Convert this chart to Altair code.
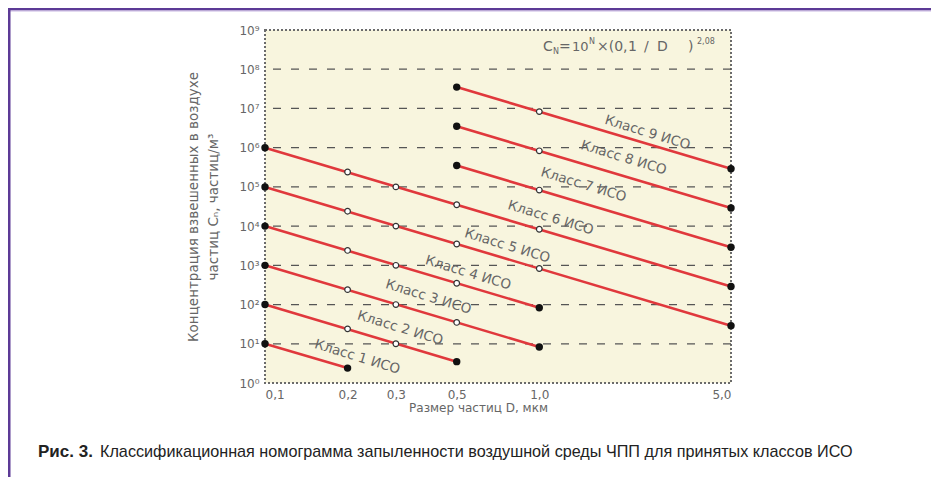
import altair as alt
import pandas as pd

# ---- data ----
classes = [1, 2, 3, 4, 5, 6, 7, 8, 9]
line_d_start = [0.1, 0.1, 0.1, 0.1, 0.1, 0.1, 0.5, 0.5, 0.5]
line_c_start = [10, 100, 1000, 1e4, 1e5, 1e6, 3.5e5, 3.5e6, 3.5e7]
line_d_end = [0.2, 0.5, 1.0, 1.0, 5.0, 5.0, 5.0, 5.0, 5.0]
line_c_end = [2.4, 3.5, 8.3, 83, 29, 290, 2900, 29000, 2.9e5]

open_class = [2, 2, 3, 3, 3, 4, 4, 4, 5, 5, 5, 5, 6, 6, 6, 6, 7, 8, 9]
open_d = [0.2, 0.3, 0.2, 0.3, 0.5, 0.2, 0.3, 0.5, 0.2, 0.3, 0.5, 1.0,
          0.2, 0.3, 0.5, 1.0, 1.0, 1.0, 1.0]
open_c = [24, 10, 240, 100, 35, 2400, 1000, 350, 24000, 10000, 3500, 830,
          2.4e5, 1.0e5, 3.5e4, 8300, 8.3e4, 8.3e5, 8.3e6]

label_text = ["Класс %d ИСО" % k for k in classes]
label_d = [0.217, 0.311, 0.394, 0.55, 0.764, 1.10, 1.45, 2.03, 2.48]
label_c = [4.6, 25, 156, 640, 3130, 16200, 1.13e5, 5.5e5, 2.4e6]

x_ticks = [0.1, 0.2, 0.3, 0.5, 1.0, 5.0]
y_ticks = [1, 10, 100, 1e3, 1e4, 1e5, 1e6, 1e7, 1e8, 1e9]
grid_lines = [10, 100, 1e3, 1e4, 1e5, 1e6, 1e7, 1e8]

x_title = "Размер частиц D, мкм"
y_title = ["Концентрация взвешенных в воздухе", "частиц Cₙ, частиц/м³"]
caption_bold = "Рис. 3."
caption_rest = "Классификационная номограмма запыленности воздушной среды ЧПП для принятых классов ИСО"

# ---- tables ----
lines_df = pd.DataFrame({
    "cls": classes + classes,
    "D": line_d_start + line_d_end,
    "C": line_c_start + line_c_end,
})
filled_df = lines_df.copy()
open_df = pd.DataFrame({"cls": open_class, "D": open_d, "C": open_c})
labels_df = pd.DataFrame({"t": label_text, "D": label_d, "C": label_c})
grid_df = pd.DataFrame({"C": grid_lines})

W, H = 466, 353
FONT = "DejaVu Sans"
GREY = "#666666"

xscale = alt.Scale(type="log", domain=[0.1, 5.0], nice=False)
yscale = alt.Scale(type="log", domain=[1, 1e9], nice=False)

sup = "['10⁰','10¹','10²','10³','10⁴','10⁵','10⁶','10⁷','10⁸','10⁹'][round(log(datum.value)/LN10)]"

X = alt.X("D:Q", scale=xscale, axis=alt.Axis(
    values=x_ticks, labelExpr="replace(format(datum.value,'.1f'),'.',',')",
    title=x_title, grid=False, ticks=False, domain=False, labelPadding=6,
    labelFont=FONT, labelFontSize=12, labelColor=GREY, titleFont=FONT,
    titleFontSize=12, titleColor=GREY, titleFontWeight="normal",
    titleX=213, titleY=19, titleAnchor="start", titleAlign="center", titleBaseline="top"))
Y_AXIS = alt.Axis(
    values=y_ticks, labelExpr=sup, title=y_title, grid=False, ticks=False,
    domain=False, labelPadding=6, labelFont=FONT, labelFontSize=12,
    labelColor=GREY, titleFont=FONT, titleFontSize=13.5, titleColor=GREY,
    titleFontWeight="normal", titlePadding=18, titleLineHeight=20)
Y = alt.Y("C:Q", scale=yscale, axis=Y_AXIS)

grid = alt.Chart(grid_df).mark_rule(color="#555555", strokeWidth=1.3,
                                    strokeDash=[8, 10]).encode(y=Y)

lines = alt.Chart(lines_df).mark_line(color="#e0383c", strokeWidth=2.6).encode(
    x=X, y=Y, detail="cls:N")

filled = alt.Chart(filled_df).mark_point(filled=True, color="#111111", size=55,
                                         opacity=1).encode(x="D:Q", y="C:Q")
opens = alt.Chart(open_df).mark_point(filled=True, fill="white", stroke="#333333",
                                      strokeWidth=1.2, size=32, opacity=1).encode(
    x="D:Q", y="C:Q")

labels = alt.Chart(labels_df).mark_text(angle=17, font=FONT, fontSize=13.5,
                                        color=GREY).encode(
    x="D:Q", y="C:Q", text="t:N")

# annotation pieces (positions relative to plot origin)
def txt(s, x, y, size=14, align="left", weight="normal", color=GREY, font=FONT):
    return alt.Chart(pd.DataFrame({"t": [s]})).mark_text(
        align=align, baseline="alphabetic", fontSize=size, font=font,
        fontWeight=weight, color=color).encode(
        x=alt.value(x), y=alt.value(y), text="t:N")

ox, oy = 265, 30
formula = [
    txt("C", 543 - ox, 51 - oy),
    txt("N", 553 - ox, 54 - oy, size=8),
    txt("=", 559 - ox, 51 - oy),
    txt("10", 572 - ox, 51 - oy, size=13),
    txt("N", 589 - ox, 44 - oy, size=8),
    txt("×(0,", 597 - ox, 51 - oy),
    txt("1", 628 - ox, 51 - oy),
    txt("/", 644 - ox, 51 - oy),
    txt("D", 657 - ox, 51 - oy),
    txt(")", 688 - ox, 51 - oy),
    txt("2,08", 697 - ox, 44 - oy, size=8),
]

cap_font = "Liberation Sans"
caption = [
    txt(caption_bold, 38 - ox, 457 - oy, size=17, weight="bold", color="#222222", font=cap_font),
    txt(caption_rest, 100 - ox, 457 - oy, size=16.2, color="#222222", font=cap_font),
]

purple = "#5c3a96"
frame_top = alt.Chart(pd.DataFrame({"a": [0]})).mark_rule(color=purple, strokeWidth=3).encode(
    x=alt.value(8 - ox), x2=alt.value(940 - ox), y=alt.value(9 - oy))
frame_top2 = alt.Chart(pd.DataFrame({"a": [0]})).mark_rule(color="#c8b6e2", strokeWidth=1).encode(
    x=alt.value(10 - ox), x2=alt.value(940 - ox), y=alt.value(11 - oy))
frame_left = alt.Chart(pd.DataFrame({"a": [0]})).mark_rule(color=purple, strokeWidth=3).encode(
    x=alt.value(9 - ox), y=alt.value(8 - oy), y2=alt.value(489 - oy))

chart = alt.layer(
    grid, lines, opens, filled, labels, *formula, *caption,
    frame_top, frame_top2, frame_left
).properties(
    width=W, height=H,
    autosize=alt.AutoSizeParams(type="none"),
    padding={"left": 257, "top": 22, "right": 200, "bottom": 94},
    background="white",
).configure_view(
    fill="#f8f5de", stroke="#6b6b6b", strokeDash=[2, 2], strokeWidth=2
)

chart.save("out.html", embed_options={"renderer": "svg", "actions": False})
